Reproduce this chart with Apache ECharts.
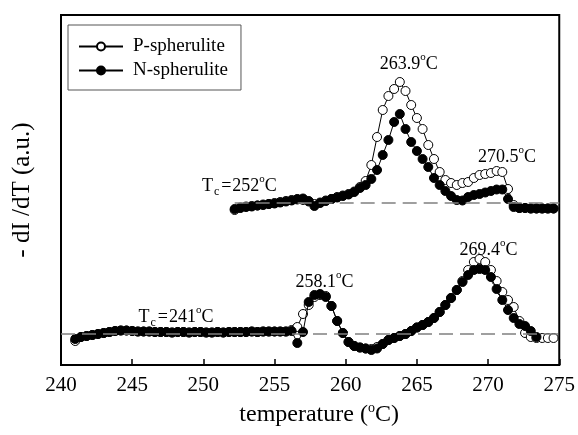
<!DOCTYPE html>
<html><head><meta charset="utf-8">
<script src="https://cdn.jsdelivr.net/npm/echarts@6/dist/echarts.min.js"></script>
<style>html,body{margin:0;padding:0;background:#fff}#c{width:578px;height:435px}</style>
</head><body><div id="c"></div>
<script>
// ---- data ----
var xTicks = [240, 245, 250, 255, 260, 265, 270, 275];
var lowerT = [241.0,241.4,241.8,242.2,242.6,243.0,243.4,243.8,244.2,244.6,245.0,245.4,245.8,246.2,246.6,247.0,247.4,247.8,248.2,248.6,249.0,249.4,249.8,250.2,250.6,251.0,251.4,251.8,252.2,252.6,253.0,253.4,253.8,254.2,254.6,255.0,255.4,255.8,256.2,256.6,257.0,257.4,257.8,258.2,258.6,259.0,259.4,259.8,260.2,260.6,261.0,261.4,261.8,262.2,262.6,263.0,263.4,263.8,264.2,264.6,265.0,265.4,265.8,266.2,266.6,267.0,267.4,267.8,268.2,268.6,269.0,269.4,269.8,270.2,270.6,271.0,271.4,271.8,272.2,272.6,273.0,273.4,273.8,274.2,274.6];
var lowerN = [2.6,2.8,2.9,3.0,3.1,3.2,3.3,3.4,3.45,3.45,3.4,3.35,3.35,3.35,3.3,3.3,3.3,3.25,3.3,3.3,3.25,3.3,3.3,3.25,3.25,3.3,3.25,3.3,3.3,3.3,3.3,3.35,3.3,3.35,3.35,3.35,3.35,3.35,3.4,2.2,3.3,6.3,7.0,7.1,6.8,5.9,4.4,3.2,2.3,1.9,1.75,1.65,1.5,1.65,2.1,2.5,2.7,2.9,3.1,3.4,3.75,4.0,4.3,4.7,5.3,6.0,6.7,7.5,8.3,9.0,9.5,9.6,9.5,8.8,7.6,6.5,5.5,4.7,4.1,3.9,3.4,2.8,null,null,null];
var lowerP = [2.4,2.8,2.9,3.0,3.1,3.2,3.3,3.4,3.45,3.45,3.4,3.35,3.35,3.35,3.3,3.3,3.3,3.25,3.3,3.3,3.25,3.3,3.3,3.25,3.25,3.3,3.25,3.3,3.3,3.3,3.3,3.35,3.3,3.35,3.35,3.35,3.35,3.35,3.5,3.8,5.1,6.0,6.8,7.0,6.9,5.9,4.4,3.2,2.3,1.9,1.75,1.65,1.6,1.8,2.1,2.5,2.7,2.9,3.1,3.4,3.75,4.0,4.3,4.7,5.3,6.0,6.7,7.5,8.4,9.5,10.3,10.6,10.3,9.5,8.4,7.3,6.5,5.8,4.4,3.2,2.8,2.7,2.7,2.7,2.7];
var upperT = [252.2,252.6,253.0,253.4,253.8,254.2,254.6,255.0,255.4,255.8,256.2,256.6,257.0,257.4,257.8,258.2,258.6,259.0,259.4,259.8,260.2,260.6,261.0,261.4,261.8,262.2,262.6,263.0,263.4,263.8,264.2,264.6,265.0,265.4,265.8,266.2,266.6,267.0,267.4,267.8,268.2,268.6,269.0,269.4,269.8,270.2,270.6,271.0,271.4,271.8,272.2,272.6,273.0,273.4,273.8,274.2,274.6];
var upperN = [15.6,15.7,15.8,15.85,15.95,16.0,16.1,16.15,16.25,16.35,16.45,16.6,16.65,16.4,15.9,16.2,16.4,16.6,16.75,16.9,17.05,17.3,17.7,18.0,18.6,19.5,21.0,22.5,24.3,25.1,23.6,22.3,21.4,20.6,19.8,18.7,18.0,17.4,16.9,16.5,16.45,16.8,17.0,17.1,17.25,17.4,17.55,17.55,16.6,15.8,15.7,15.7,15.65,15.65,15.65,15.65,15.65];
var upperP = [15.5,15.75,15.85,15.9,15.95,16.05,16.1,16.2,16.3,16.4,16.5,16.55,16.5,16.35,16.1,16.25,16.45,16.6,16.8,16.95,17.1,17.35,17.8,18.4,20.0,22.8,25.5,26.9,27.6,28.3,27.4,26.0,24.7,23.6,22.0,20.6,19.3,18.5,18.2,18.0,18.2,18.3,18.7,19.0,19.1,19.2,19.4,19.3,17.6,16.0,15.7,15.7,15.65,15.65,15.65,15.65,15.65];
var baseLower = 3.1;
var baseUpper = 16.2;
var seriesNames = ['P-spherulite', 'N-spherulite'];
// annotation texts with anchor in data coordinates
var annoText = ['263.9{sup|o}C', '270.5{sup|o}C', 'T{sub|c}{eq|=}252{sup|o}C', '258.1{sup|o}C', '269.4{sup|o}C', 'T{sub|c}{eq|=}241{sup|o}C'];
var annoT = [264.43, 271.33, 252.53, 258.51, 270.03, 248.08];
var annoV = [30.1, 20.8, 17.9, 8.3, 11.5, 4.8];

function pairs(xs, ys) {
  var out = [];
  for (var i = 0; i < xs.length; i++) out.push([xs[i], ys[i]]);
  return out;
}

var FONT = 'Liberation Serif';
var chart = echarts.init(document.getElementById('c'), null, {renderer: 'canvas'});

function mkSeries(name, data, filled, z) {
  return {
    name: name, type: 'line', data: data, z: z,
    symbol: 'circle', symbolSize: 9, showAllSymbol: true,
    connectNulls: false,
    lineStyle: {color: '#000', width: 1},
    itemStyle: {color: filled ? '#000' : '#fff', borderColor: '#000', borderWidth: 1},
    emphasis: {disabled: true}, silent: true
  };
}

var option = {
  animation: false,
  backgroundColor: '#fff',
  grid: {left: 61, right: 17, top: 15, bottom: 70, show: true, borderColor: '#000', borderWidth: 2, backgroundColor: 'transparent'},
  legend: {
    data: seriesNames, orient: 'vertical', left: 68, top: 25,
    itemWidth: 44, itemHeight: 10, itemGap: 5,
    padding: [12, 13, 10, 10],
    backgroundColor: '#fff', borderColor: '#555', borderWidth: 1,
    textStyle: {fontFamily: FONT, fontSize: 19, color: '#000', lineHeight: 19, padding: [0, 0, 0, 5]},
    selectedMode: false
  },
  xAxis: {
    type: 'value', min: 240, max: 275, interval: 5,
    name: 'temperature ({sup|o}C)', nameLocation: 'middle', nameGap: 35,
    nameTextStyle: {fontFamily: FONT, fontSize: 24, color: '#000', lineHeight: 28, padding: [0, 0, 0, 18],
      rich: {sup: {fontFamily: FONT, fontSize: 14, color: '#000', verticalAlign: 'top', lineHeight: 14}}},
    axisLine: {lineStyle: {color: '#000', width: 2}},
    axisTick: {inside: true, length: 6, lineStyle: {color: '#000', width: 1.5}},
    axisLabel: {fontFamily: FONT, fontSize: 21, color: '#000', margin: 10,
      formatter: function (v) { return xTicks.indexOf(v) >= 0 ? String(v) : ''; }},
    splitLine: {show: false}
  },
  yAxis: {
    type: 'value', min: 0, max: 35,
    name: '- dI /dT (a.u.)', nameLocation: 'middle', nameGap: 26, nameRotate: 90,
    nameTextStyle: {fontFamily: FONT, fontSize: 25, color: '#000'},
    axisLine: {show: false}, axisTick: {show: false}, axisLabel: {show: false}, splitLine: {show: false}
  },
  series: [
    {
      name: 'baselines', type: 'line', data: [], z: 1, silent: true,
      markLine: {
        silent: true, symbol: 'none', label: {show: false},
        lineStyle: {color: '#808080', type: [14, 7], width: 1.5},
        data: [
          [{coord: [240, baseLower]}, {coord: [275, baseLower]}],
          [{coord: [upperT[0], baseUpper]}, {coord: [275, baseUpper]}]
        ]
      }
    },
    mkSeries(seriesNames[0], pairs(lowerT, lowerP), false, 2),
    mkSeries(seriesNames[1], pairs(lowerT, lowerN), true, 3),
    mkSeries(seriesNames[0], pairs(upperT, upperP), false, 2),
    mkSeries(seriesNames[1], pairs(upperT, upperN), true, 3)
  ]
};
chart.setOption(option);

var rich = {
  sup: {fontFamily: FONT, fontSize: 11, color: '#000', verticalAlign: 'top', lineHeight: 11},
  sub: {fontFamily: FONT, fontSize: 12, color: '#000', verticalAlign: 'bottom', lineHeight: 12, padding: [0, 2, 0, 1]},
  eq: {fontFamily: FONT, fontSize: 18, color: '#000', padding: [0, 1, 0, 0]}
};
var graphics = [];
for (var i = 0; i < annoText.length; i++) {
  var p = chart.convertToPixel({gridIndex: 0}, [annoT[i], annoV[i]]);
  graphics.push({
    type: 'text', x: p[0], y: p[1], z: 10, silent: true,
    style: {text: annoText[i], fontFamily: FONT, fontSize: 18, lineHeight: 24, fill: '#000',
      align: 'center', verticalAlign: 'middle', rich: rich}
  });
}
chart.setOption({graphic: graphics});
</script>
</body></html>
